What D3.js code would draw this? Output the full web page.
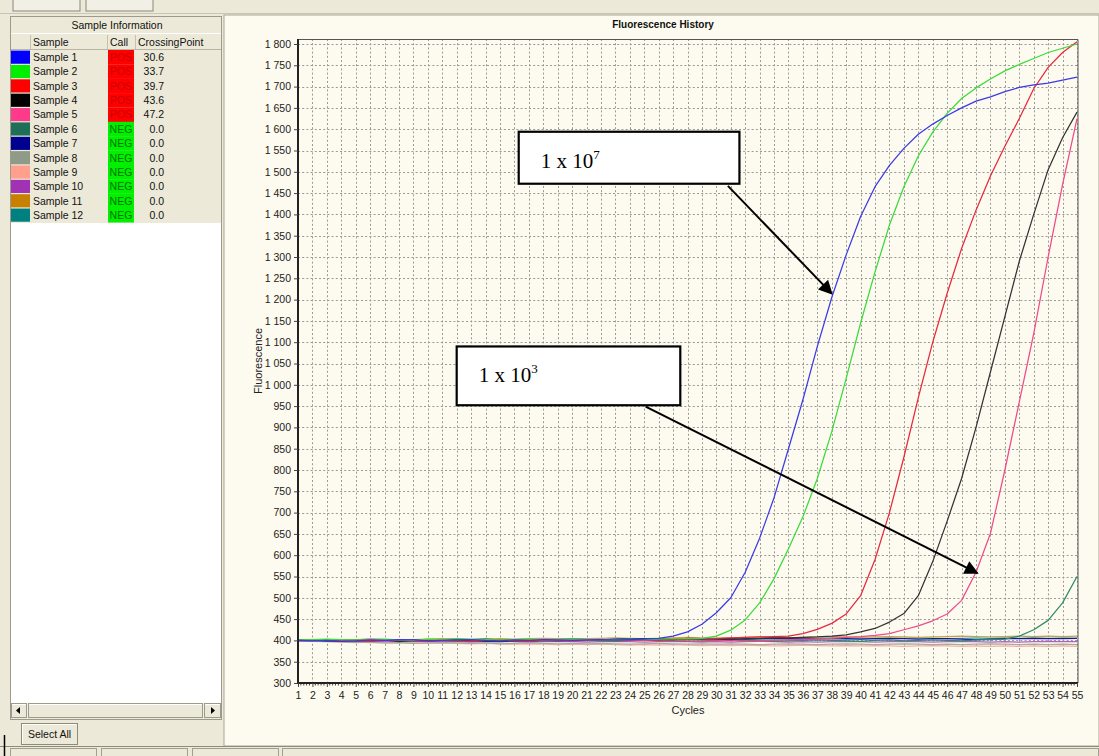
<!DOCTYPE html>
<html><head><meta charset="utf-8">
<script src="https://cdn.jsdelivr.net/npm/d3@7"></script>
<style>
body{margin:0;background:#ece9d8;overflow:hidden}
svg{display:block;font-family:"Liberation Sans",Arial,sans-serif}
</style></head><body><svg id="c" width="1099" height="756"></svg>
<script>
// ---- data -------------------------------------------------------------
const cycles = [1,2,3,4,5,6,7,8,9,10,11,12,13,14,15,16,17,18,19,20,21,22,23,24,25,26,27,28,29,30,
  31,32,33,34,35,36,37,38,39,40,41,42,43,44,45,46,47,48,49,50,51,52,53,54,55];
const yTicks = [300,350,400,450,500,550,600,650,700,750,800,850,900,950,1000,1050,1100,1150,
  1200,1250,1300,1350,1400,1450,1500,1550,1600,1650,1700,1750,1800];

const sampleNames = ["Sample 1","Sample 2","Sample 3","Sample 4","Sample 5","Sample 6",
  "Sample 7","Sample 8","Sample 9","Sample 10","Sample 11","Sample 12"];
const calls = ["POS","POS","POS","POS","POS","NEG","NEG","NEG","NEG","NEG","NEG","NEG"];
const crossingPoints = [30.6,33.7,39.7,43.6,47.2,0.0,0.0,0.0,0.0,0.0,0.0,0.0];
const sampleColors = ["#0000ff","#00ee00","#ff0000","#000000","#ff3a8a","#1f6e58",
  "#000090","#8f9a88","#ffa08c","#a232b4","#c88000","#008080"];
const curveColors = ["#3a3ae6","#3ada3a","#e8283c","#333333","#ee4a8a","#2f8a68",
  "#1a1a90","#a6ab9e","#f3b0a4","#b060c8","#c8a050","#38b8c8"];

const s1 = [400,399,400,398,399,401,400,402,401,399,400,401,402,400,399,401,400,402,401,400,
  401,402,401,402,403,405,410,420,438,465,500,560,640,735,850,965,1090,1205,1305,1395,
  1465,1515,1555,1588,1612,1632,1650,1666,1676,1688,1698,1704,1708,1715,1722];
const s2 = [401,402,403,402,401,402,403,401,400,403,402,404,403,402,401,402,403,401,402,403,
  402,401,402,403,402,403,404,404,405,410,424,448,488,545,615,690,780,890,1015,1145,
  1265,1375,1465,1537,1593,1637,1672,1697,1718,1737,1752,1766,1780,1790,1800];
const s3 = [399,400,401,400,399,398,400,401,399,398,400,399,398,400,401,399,398,400,401,399,
  400,401,400,402,401,400,402,403,404,405,406,407,408,409,410,416,426,440,462,505,
  590,700,830,970,1100,1215,1320,1410,1490,1560,1625,1695,1745,1780,1805];
const s4 = [400,401,399,398,400,399,401,397,400,399,400,401,399,398,397,399,398,400,399,400,
  401,400,402,403,404,403,402,405,404,403,402,404,405,406,406,407,408,410,413,420,
  428,443,463,505,585,680,780,900,1030,1160,1290,1400,1505,1580,1640];
const s5 = [400,400,401,402,401,403,402,401,400,402,401,403,400,399,401,400,399,401,400,399,
  400,401,402,401,400,402,401,399,398,399,400,398,399,400,401,402,404,405,407,409,
  412,416,425,434,446,462,494,560,651,800,960,1120,1300,1470,1625];
const s6 = [400,399,401,400,398,399,402,400,399,401,400,398,399,401,400,399,398,400,401,399,
  400,399,398,400,401,399,400,398,399,400,401,399,400,398,399,400,401,400,399,398,
  400,401,399,400,401,400,399,401,402,403,410,425,447,488,550];
const s7 = [401,400,399,400,401,402,401,400,402,401,400,401,402,403,401,402,401,400,402,403,
  402,401,403,404,403,402,403,404,403,404,404,403,404,405,404,403,404,405,404,403,
  404,405,404,403,404,404,403,402,403,404,404,405,404,404,405];
const s8 = [399,398,397,396,395,396,394,395,393,394,395,394,393,394,392,393,394,393,392,393,
  392,393,392,391,392,393,392,391,392,391,392,391,390,391,392,391,390,391,392,391,
  390,391,392,391,390,391,390,391,392,391,390,391,390,391,390];
const s9 = [400,399,398,397,396,395,394,395,394,393,394,393,392,393,392,391,392,391,390,391,
  390,391,390,389,390,389,390,389,388,389,388,389,388,387,388,389,388,387,388,387,
  388,387,386,387,388,387,386,387,386,387,386,387,386,387,386];
const s10 = [400,399,398,399,398,397,398,397,398,397,398,397,396,397,398,397,396,397,398,397,
  396,397,398,397,396,397,398,397,396,397,396,397,398,397,396,397,396,397,398,397,
  396,397,398,397,396,397,398,397,396,397,396,397,398,397,397];
const s11 = [400,401,402,401,402,403,402,401,402,403,404,403,402,403,404,403,404,405,404,403,
  404,405,406,405,404,405,406,407,406,405,406,407,408,407,406,407,408,409,408,407,
  408,409,408,407,408,409,410,409,408,409,410,409,410,409,410];
const s12 = [399,400,401,400,401,402,401,400,401,402,401,402,401,400,401,402,403,402,401,402,
  403,402,401,402,403,402,401,402,403,404,403,402,403,404,403,404,405,404,403,404,
  405,404,405,406,405,404,405,406,405,406,405,406,405,406,405];
const seriesValues = [s1,s2,s3,s4,s5,s6,s7,s8,s9,s10,s11,s12];

// dilution callouts: box corners, text, and arrow from box to curve (cycle, fluorescence)
const noteBase = ["1 x 10","1 x 10"];
const noteExp = ["7","3"];
const noteBox = [[16.3,31.6,1594,1472],[12.0,27.5,1090,952]];
const noteArrowFrom = [[30.8,1467],[25.1,949]];
const noteArrowTo = [[38.0,1214],[48.1,558]];

// ---- drawing ----------------------------------------------------------
const svg = d3.select("#c");
const x = d3.scaleLinear().domain([1,55]).range([298,1077]);
const y = d3.scaleLinear().domain([300,1800]).range([683,44]);
const plotTop = 39, plotRight = x(55) + 1;

// window chrome: top strip buttons
[[13,80],[86,153]].forEach(([a,b])=>{
  svg.append("rect").attr("x",a).attr("y",-2).attr("width",b-a).attr("height",13)
    .attr("fill","#f1efe6").attr("stroke","#8a8878");
});
svg.append("line").attr("x1",0).attr("x2",1099).attr("y1",13.5).attr("y2",13.5).attr("stroke","#c9c6b6");

// chart panel
svg.append("rect").attr("x",224).attr("y",15).attr("width",875).attr("height",731)
  .attr("fill","#fdfbf0").attr("stroke","#a8a697");

// ---- left panel: sample table
const tbl = svg.append("g");
tbl.append("rect").attr("x",10.5).attr("y",16.5).attr("width",211).attr("height",703)
  .attr("fill","#ece9d8").attr("stroke","#9c9a8c");
tbl.append("rect").attr("x",11).attr("y",223).attr("width",210).attr("height",480).attr("fill","#ffffff");
tbl.append("text").attr("x",117).attr("y",29).attr("text-anchor","middle")
  .attr("font-size",10.5).attr("fill","#111").text("Sample Information");
tbl.append("line").attr("x1",11).attr("x2",221).attr("y1",33.5).attr("y2",33.5).attr("stroke","#fff");
tbl.append("line").attr("x1",11).attr("x2",221).attr("y1",49.5).attr("y2",49.5).attr("stroke","#b8b5a5");
[30.5,107.5,135.5].forEach(cx=>{
  tbl.append("line").attr("x1",cx).attr("x2",cx).attr("y1",35).attr("y2",49).attr("stroke","#c4c1b0");
});
const headers = [["Sample",33],["Call",110],["CrossingPoint",138]];
headers.forEach(([t,hx])=>{
  tbl.append("text").attr("x",hx).attr("y",46).attr("font-size",10.5).attr("fill","#111").text(t);
});
const rowH = 14.36, row0 = 50;
sampleNames.forEach((name,i)=>{
  const ry = row0 + i*rowH;
  tbl.append("rect").attr("x",11).attr("y",ry+0.6).attr("width",19).attr("height",rowH-1.2)
    .attr("fill",sampleColors[i]);
  tbl.append("text").attr("x",33).attr("y",ry+11).attr("font-size",10.5).attr("fill","#111").text(name);
  const pos = calls[i]==="POS";
  tbl.append("rect").attr("x",108).attr("y",ry).attr("width",26).attr("height",rowH+0.2)
    .attr("fill",pos?"#ff0000":"#00f000");
  tbl.append("text").attr("x",121).attr("y",ry+11).attr("text-anchor","middle").attr("font-size",10.5)
    .attr("fill",pos?"#c80000":"#007000").text(calls[i]);
  tbl.append("text").attr("x",164).attr("y",ry+11).attr("text-anchor","end").attr("font-size",10.5)
    .attr("fill","#111").text(crossingPoints[i].toFixed(1));
});

// scrollbar
tbl.append("rect").attr("x",11).attr("y",703).attr("width",210).attr("height",15).attr("fill","#f3f1e8");
[[11,27],[28,203],[204,221]].forEach(([a,b])=>{
  tbl.append("rect").attr("x",a+0.5).attr("y",703.5).attr("width",b-a-1).attr("height",14)
    .attr("fill","#ece9d8").attr("stroke","#9c9a8c");
  tbl.append("line").attr("x1",a+1).attr("x2",b-1).attr("y1",704.5).attr("y2",704.5).attr("stroke","#fff");
});
tbl.append("path").attr("d","M16,710.5 L20,707 L20,714 Z").attr("fill","#000");
tbl.append("path").attr("d","M215,710.5 L211,707 L211,714 Z").attr("fill","#000");

// Select All button
tbl.append("rect").attr("x",21.5).attr("y",723.5).attr("width",56).attr("height",21)
  .attr("fill","#ece9d8").attr("stroke","#8d8b7c");
tbl.append("path").attr("d","M22.5,743.5 V724.5 H76.5").attr("fill","none").attr("stroke","#fff");
tbl.append("text").attr("x",49.5).attr("y",738).attr("text-anchor","middle").attr("font-size",10.5)
  .attr("fill","#111").text("Select All");

// status bar
svg.append("rect").attr("x",0).attr("y",746).attr("width",1099).attr("height",10).attr("fill","#ece9d8");
svg.append("line").attr("x1",0).attr("x2",1099).attr("y1",746.5).attr("y2",746.5).attr("stroke","#8d8b7c");
[[10,97],[101,188],[192,279],[282,1099]].forEach(([a,b])=>{
  svg.append("rect").attr("x",a+0.5).attr("y",748.5).attr("width",b-a-1).attr("height",10)
    .attr("fill","none").attr("stroke","#a19f90");
});
svg.append("line").attr("x1",4.5).attr("x2",4.5).attr("y1",735).attr("y2",756).attr("stroke","#000").attr("stroke-width",1.5);

// ---- plot
const plot = svg.append("g");
plot.append("text").attr("x",663).attr("y",28).attr("text-anchor","middle").attr("font-size",10)
  .attr("font-weight","bold").attr("fill","#111").text("Fluorescence History");

// dashed grid
plot.append("g").selectAll("line").data(yTicks).join("line")
  .attr("x1",x(1)).attr("x2",plotRight).attr("y1",d=>Math.round(y(d))+0.5).attr("y2",d=>Math.round(y(d))+0.5)
  .attr("stroke","#9a9a94").attr("stroke-dasharray","2,2.2");
plot.append("g").selectAll("line").data(cycles).join("line")
  .attr("x1",d=>Math.round(x(d))+0.5).attr("x2",d=>Math.round(x(d))+0.5).attr("y1",plotTop).attr("y2",683)
  .attr("stroke","#9a9a94").attr("stroke-dasharray","2,2.2");

// frame
plot.append("path").attr("d",`M${x(1)},${plotTop+0.5} H${plotRight} V683`).attr("fill","none")
  .attr("stroke","#555").attr("stroke-width",1);

// curves
const line = d3.line().x((d,i)=>x(cycles[i])).y(d=>y(d));
const order = [11,10,9,8,7,6,5,4,3,2,1,0];
plot.append("g").selectAll("path").data(order).join("path")
  .attr("d",i=>line(seriesValues[i])).attr("fill","none")
  .attr("stroke",i=>curveColors[i]).attr("stroke-width",1.25).attr("stroke-linejoin","round");

// axes
const fmt = v => v>=1000 ? `${Math.floor(v/1000)} ${String(v%1000).padStart(3,"0")}` : `${v}`;
const yAx = plot.append("g").attr("transform",`translate(${x(1)},0)`)
  .call(d3.axisLeft(y).tickValues(yTicks).tickFormat(fmt).tickSize(4).tickPadding(3).tickSizeOuter(0));
yAx.select(".domain").attr("d",`M0,${plotTop}V683`).attr("stroke","#222").attr("stroke-width",2);
yAx.selectAll("text").attr("font-size",10.5).attr("fill","#222").attr("font-family","Liberation Sans, Arial, sans-serif");
yAx.selectAll(".tick line").attr("stroke","#444");

const minor = [];
cycles.slice(0,-1).forEach(c=>{ [0.2,0.4,0.6,0.8].forEach(f=>minor.push(c+f)); });
plot.append("g").selectAll("line").data(minor).join("line")
  .attr("x1",d=>x(d)).attr("x2",d=>x(d)).attr("y1",683).attr("y2",685.5).attr("stroke","#444");
const xAx = plot.append("g").attr("transform","translate(0,683)")
  .call(d3.axisBottom(x).tickValues(cycles).tickFormat(d3.format("d")).tickSize(4).tickPadding(5).tickSizeOuter(0));
xAx.select(".domain").attr("d",`M${x(1)-1},0H${plotRight}`).attr("stroke","#222").attr("stroke-width",2);
xAx.selectAll("text").attr("font-size",10.5).attr("fill","#222").attr("font-family","Liberation Sans, Arial, sans-serif");
xAx.selectAll(".tick line").attr("stroke","#444");

plot.append("text").attr("x",688).attr("y",714).attr("text-anchor","middle").attr("font-size",11)
  .attr("fill","#222").text("Cycles");
plot.append("text").attr("transform","translate(262,361) rotate(-90)").attr("text-anchor","middle")
  .attr("font-size",11).attr("fill","#222").text("Fluorescence");

// callouts
const defs = svg.append("defs");
defs.append("marker").attr("id","ah").attr("viewBox","0 0 10 10").attr("refX",9).attr("refY",5)
  .attr("markerWidth",9).attr("markerHeight",7).attr("markerUnits","strokeWidth").attr("orient","auto")
  .append("path").attr("d","M0,0 L10,5 L0,10 Z").attr("fill","#000");
noteBox.forEach((b,i)=>{
  const g = plot.append("g");
  g.append("line").attr("x1",x(noteArrowFrom[i][0])).attr("y1",y(noteArrowFrom[i][1]))
    .attr("x2",x(noteArrowTo[i][0])).attr("y2",y(noteArrowTo[i][1]))
    .attr("stroke","#000").attr("stroke-width",2).attr("marker-end","url(#ah)");
  const bx = x(b[0]), by = y(b[2]);
  g.append("rect").attr("x",bx).attr("y",by).attr("width",x(b[1])-bx).attr("height",y(b[3])-by)
    .attr("fill","#fff").attr("stroke","#000").attr("stroke-width",2.2);
  const t = g.append("text").attr("x",bx+22).attr("y",by+36).attr("font-family","Liberation Serif, Times New Roman, serif")
    .attr("font-size",21).attr("fill","#000");
  t.append("tspan").text(noteBase[i]);
  t.append("tspan").attr("font-size",13).attr("dy",-9).text(noteExp[i]);
});
</script></body></html>
